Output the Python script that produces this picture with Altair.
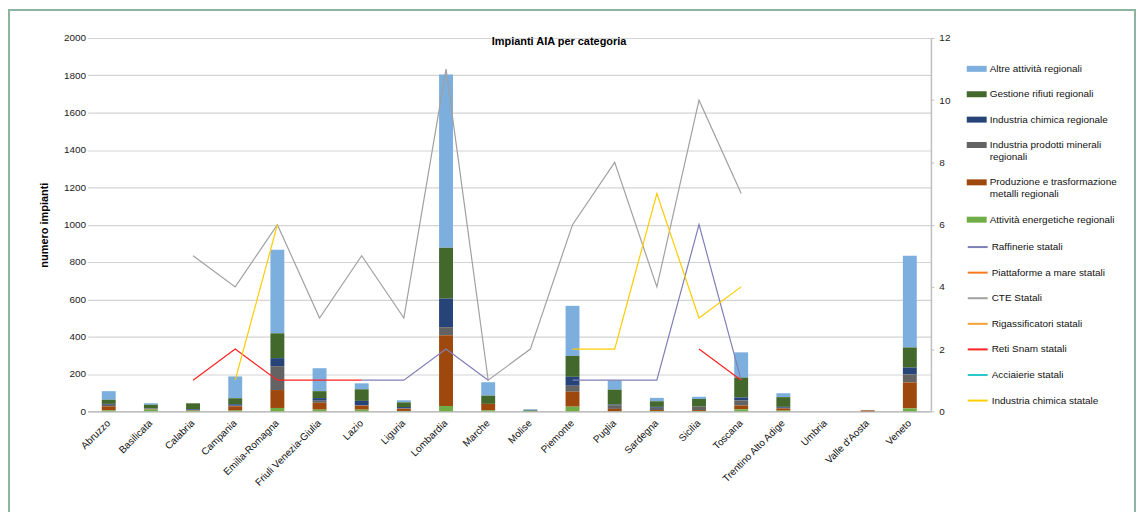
import altair as alt
import pandas as pd

regions = ["Abruzzo", "Basilicata", "Calabria", "Campania", "Emilia-Romagna",
           "Friuli Venezia-Giulia", "Lazio", "Liguria", "Lombardia", "Marche",
           "Molise", "Piemonte", "Puglia", "Sardegna", "Sicilia", "Toscana",
           "Trentino Alto Adige", "Umbria", "Valle d'Aosta", "Veneto"]

# stacked bars (left axis)
altre = [46, 8, 0, 117, 448, 123, 32, 11, 928, 72, 3, 268, 50, 18, 12, 135, 21, 0, 2, 491]
rifiuti = [22, 18, 32, 32, 133, 37, 62, 25, 272, 44, 2, 112, 80, 30, 41, 107, 52, 0, 0, 108]
chimica = [5, 2, 5, 8, 43, 14, 23, 7, 153, 0, 3, 48, 3, 5, 0, 16, 5, 0, 0, 36]
minerali = [8, 3, 1, 3, 128, 11, 3, 2, 43, 0, 0, 32, 20, 12, 18, 27, 3, 0, 0, 43]
metalli = [22, 2, 2, 23, 96, 37, 21, 12, 379, 35, 0, 80, 12, 5, 5, 20, 12, 0, 5, 139]
energetiche = [5, 10, 3, 4, 18, 9, 9, 2, 29, 5, 3, 25, 1, 2, 2, 11, 4, 0, 0, 16]

# lines (right axis)
raffinerie = [None, None, None, None, None, None, 1, 1, 2, 1, None, 1, 1, 1, 6, 1, None, None, None, None]
piattaforme = [None] * 20
cte = [None, None, 5, 4, 6, 3, 5, 3, 11, 1, 2, 6, 8, 4, 10, 7, None, None, None, None]
rigassificatori = [None] * 20
reti_snam = [None, None, 1, 2, 1, 1, 1, None, None, None, None, None, None, None, 2, 1, None, None, None, None]
acciaierie = [None] * 20
chimica_statale = [None, None, None, 1, 6, None, None, None, None, None, None, 2, 2, 7, 3, 4, None, None, None, None]

bar_series = ["Altre attività regionali", "Gestione rifiuti regionali",
              "Industria chimica regionale", "Industria prodotti minerali regionali",
              "Produzione e trasformazione metalli regionali", "Attività energetiche regionali"]
bar_values = [altre, rifiuti, chimica, minerali, metalli, energetiche]
bar_colors = ["#7cafdd", "#43682b", "#264478", "#636363", "#9e480e", "#70ad47"]

line_series = ["Raffinerie statali", "Piattaforme a mare statali", "CTE Statali",
               "Rigassificatori statali", "Reti Snam statali", "Acciaierie statali",
               "Industria chimica statale"]
line_values = [raffinerie, piattaforme, cte, rigassificatori, reti_snam, acciaierie, chimica_statale]
line_colors = ["#7f7fb8", "#f47a20", "#a0a0a0", "#f5a030", "#ff2020", "#2ac8c8", "#ffcc00"]

rows = []
for si, (name, vals) in enumerate(zip(bar_series, bar_values)):
    for r, v in zip(regions, vals):
        rows.append({"regione": r, "serie": name, "valore": v,
                     "ordine": len(bar_series) - 1 - si})
bar_df = pd.DataFrame(rows)

lrows = []
for name, vals in zip(line_series, line_values):
    seg = 0
    prev = None
    for r, v in zip(regions, vals):
        if v is None:
            if prev is not None:
                seg += 1
            prev = None
            continue
        lrows.append({"regione": r, "serie": name, "valore": v, "seg": f"{name}-{seg}"})
        prev = v
line_df = pd.DataFrame(lrows)

FONT = "Liberation Sans"
W, H = 847, 375

x_enc = alt.X("regione:N", sort=regions,
              scale=alt.Scale(domain=regions, paddingInner=0.67, paddingOuter=0.335),
              axis=alt.Axis(title=None, labelAngle=315, labelAlign="right",
                            labelBaseline="middle", labelPadding=10, ticks=False,
                            domainColor="#bfbfbf", domainWidth=1.5,
                            labelFontSize=10, labelColor="#111"))

bars = alt.Chart(bar_df).mark_bar().encode(
    x=x_enc,
    y=alt.Y("valore:Q", stack="zero",
            scale=alt.Scale(domain=[0, 2000], nice=False),
            axis=alt.Axis(title="numero impianti", values=list(range(0, 2001, 200)),
                          format="d",
                          grid=True, gridColor="#d4d4d4", gridWidth=1.2,
                          domain=False, ticks=False, labelPadding=2,
                          titleFontSize=11, titleFontWeight="bold", titlePadding=14,
                          titleColor="#000", labelFontSize=10, labelColor="#222")),
    fill=alt.Fill("serie:N",
                  scale=alt.Scale(domain=bar_series, range=bar_colors),
                  legend=alt.Legend(title=None, orient="none", legendX=883, legendY=21,
                                    symbolType="M-1,-0.3H1V0.3H-1Z", symbolSize=400,
                                    symbolStrokeWidth=0, labelFontSize=10,
                                    labelColor="#111", labelOffset=3, labelLimit=400,
                                    rowPadding=10.5, padding=0, labelBaseline="middle",
                                    labelExpr="datum.label == 'Industria prodotti minerali regionali' ? ['Industria prodotti minerali', 'regionali'] : datum.label == 'Produzione e trasformazione metalli regionali' ? ['Produzione e trasformazione', 'metalli regionali'] : datum.label")),
    order=alt.Order("ordine:Q"),
)

lines = alt.Chart(line_df).mark_line(strokeWidth=1.2).encode(
    x=x_enc,
    y=alt.Y("valore:Q", scale=alt.Scale(domain=[0, 12], nice=False),
            axis=alt.Axis(orient="right", title=None, values=list(range(0, 13, 2)),
                          grid=False, domainColor="#bfbfbf", domainWidth=1.5,
                          tickColor="#bfbfbf", tickSize=3, labelPadding=5,
                          labelFontSize=10, labelColor="#222")),
    stroke=alt.Stroke("serie:N",
                      scale=alt.Scale(domain=line_series, range=line_colors),
                      legend=alt.Legend(title=None, orient="none", legendX=883, legendY=199,
                                        symbolType="stroke", symbolSize=400,
                                        symbolStrokeWidth=2, labelFontSize=10,
                                        labelColor="#111", labelOffset=3, labelLimit=400,
                                        rowPadding=9.7, padding=0)),
    detail="seg:N",
)

frame = alt.Chart(pd.DataFrame({"k": [0]})).mark_rect(
    fill="transparent", stroke="#8db4a0", strokeWidth=2
).encode(x=alt.value(-79), x2=alt.value(1052), y=alt.value(-28), y2=alt.value(520))

chart = alt.layer(frame, bars, lines).resolve_scale(
    y="independent"
).properties(
    width=W, height=H,
    autosize=alt.AutoSizeParams(type="none"),
    padding={"left": 80, "top": 29, "right": 206, "bottom": 100},
    title=alt.Title("Impianti AIA per categoria", fontSize=11, fontWeight="bold",
                    anchor="middle", dx=50, dy=38, offset=0, color="#000"),
).configure(
    font=FONT
).configure_view(strokeWidth=0)

chart.save("out.html", embed_options={"renderer": "svg", "actions": False})
